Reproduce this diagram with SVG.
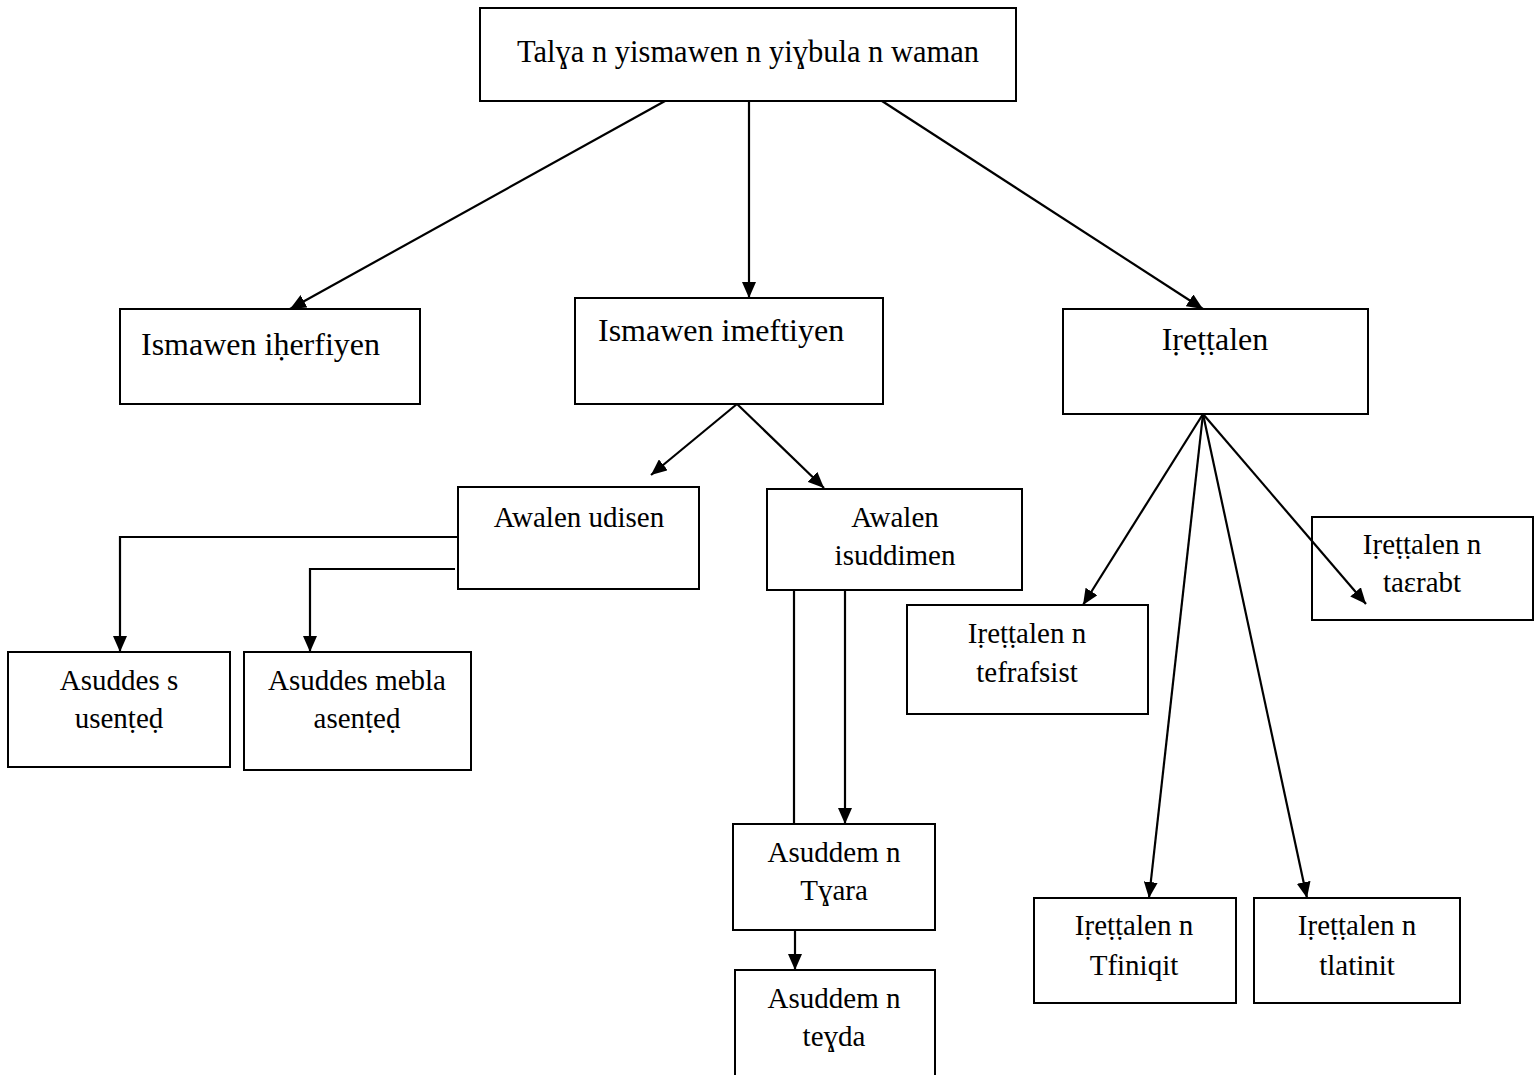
<svg xmlns="http://www.w3.org/2000/svg" width="1539" height="1075" viewBox="0 0 1539 1075">
<style>
.box{fill:none;stroke:#000;stroke-width:2}
text{font-family:"Liberation Serif","Times New Roman",serif;fill:#000}
.t{font-size:29px}
.h{font-size:30.5px}
.b{font-size:32px}
.c{text-anchor:middle}
.ln{fill:none;stroke:#000;stroke-width:2.2}
</style>
<defs>
<marker id="ah" viewBox="0 0 16 14" refX="16" refY="7" markerWidth="16" markerHeight="14" markerUnits="userSpaceOnUse" orient="auto">
<path d="M0,0 L16,7 L0,14 Z" fill="#000"/>
</marker>
</defs>
<rect width="1539" height="1075" fill="#fff"/>
<g id="connectors">
<line class="ln" x1="665" y1="101" x2="290" y2="309" marker-end="url(#ah)"/>
<line class="ln" x1="749" y1="101" x2="749" y2="298" marker-end="url(#ah)"/>
<line class="ln" x1="882" y1="101" x2="1203" y2="309" marker-end="url(#ah)"/>
<line class="ln" x1="737" y1="404" x2="651" y2="475" marker-end="url(#ah)"/>
<line class="ln" x1="737" y1="404" x2="824" y2="488" marker-end="url(#ah)"/>
<polyline class="ln" points="458,537 120,537 120,652" marker-end="url(#ah)"/>
<polyline class="ln" points="455,569 310,569 310,652" marker-end="url(#ah)"/>
<line class="ln" x1="794" y1="590" x2="794" y2="824"/>
<line class="ln" x1="845" y1="590" x2="845" y2="824" marker-end="url(#ah)"/>
<line class="ln" x1="795" y1="930" x2="795" y2="970" marker-end="url(#ah)"/>
<line class="ln" x1="1203" y1="414" x2="1083" y2="605" marker-end="url(#ah)"/>
<line class="ln" x1="1203" y1="414" x2="1149" y2="898" marker-end="url(#ah)"/>
<line class="ln" x1="1203" y1="414" x2="1307" y2="898" marker-end="url(#ah)"/>
<line class="ln" x1="1203" y1="414" x2="1366" y2="604" marker-end="url(#ah)"/>
</g>
<g id="n-title"><rect class="box" x="480" y="8" width="536" height="93"/><text class="h c" x="748" y="62">Talɣa n yismawen n yiɣbula n waman</text></g>
<g id="n-iherfiyen"><rect class="box" x="120" y="309" width="300" height="95"/><text class="b" x="141" y="355">Ismawen iḥerfiyen</text></g>
<g id="n-imeftiyen"><rect class="box" x="575" y="298" width="308" height="106"/><text class="b" x="598" y="341">Ismawen imeftiyen</text></g>
<g id="n-irettalen"><rect class="box" x="1063" y="309" width="305" height="105"/><text class="b c" x="1215" y="350">Iṛeṭṭalen</text></g>
<g id="n-udisen"><rect class="box" x="458" y="487" width="241" height="102"/><text class="t c" x="579" y="527">Awalen udisen</text></g>
<g id="n-isuddimen"><rect class="box" x="767" y="489" width="255" height="101"/><text class="t c" x="895" y="527">Awalen</text><text class="t c" x="895" y="565">isuddimen</text></g>
<g id="n-usented"><rect class="box" x="8" y="652" width="222" height="115"/><text class="t c" x="119" y="690">Asuddes s</text><text class="t c" x="119" y="728">usenṭeḍ</text></g>
<g id="n-asented"><rect class="box" x="244" y="652" width="227" height="118"/><text class="t c" x="357" y="690">Asuddes mebla</text><text class="t c" x="357" y="728">asenṭeḍ</text></g>
<g id="n-tgara"><rect class="box" x="733" y="824" width="202" height="106"/><text class="t c" x="834" y="862">Asuddem n</text><text class="t c" x="834" y="900">Tɣara</text></g>
<g id="n-tegda"><rect class="box" x="735" y="970" width="200" height="110"/><text class="t c" x="834" y="1008">Asuddem n</text><text class="t c" x="834" y="1046">teɣda</text></g>
<g id="n-tefrafsist"><rect class="box" x="907" y="605" width="241" height="109"/><text class="t c" x="1027" y="643">Iṛeṭṭalen n</text><text class="t c" x="1027" y="682">tefrafsist</text></g>
<g id="n-taerabt"><rect class="box" x="1312" y="517" width="221" height="103"/><text class="t c" x="1422" y="554">Iṛeṭṭalen n</text><text class="t c" x="1422" y="592">taɛrabt</text></g>
<g id="n-tfiniqit"><rect class="box" x="1034" y="898" width="202" height="105"/><text class="t c" x="1134" y="935">Iṛeṭṭalen n</text><text class="t c" x="1134" y="975">Tfiniqit</text></g>
<g id="n-tlatinit"><rect class="box" x="1254" y="898" width="206" height="105"/><text class="t c" x="1357" y="935">Iṛeṭṭalen n</text><text class="t c" x="1357" y="975">tlatinit</text></g>
</svg>
